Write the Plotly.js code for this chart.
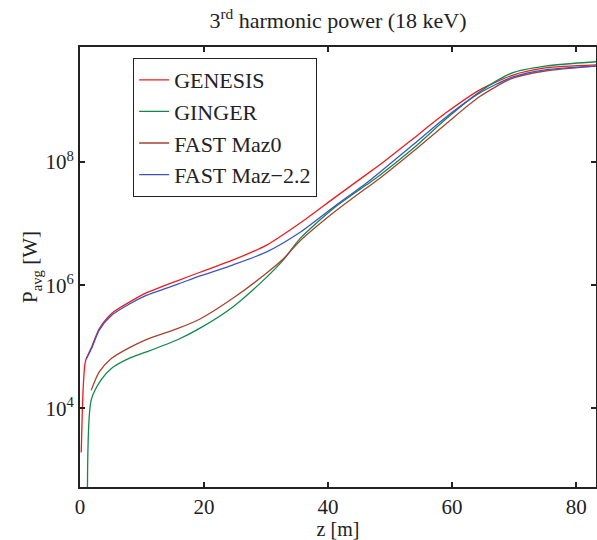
<!DOCTYPE html>
<html>
<head>
<meta charset="utf-8">
<script src="https://cdn.plot.ly/plotly-3.0.1.min.js"></script>
<style>html,body{margin:0;padding:0;background:#fff;}#chart{width:597px;height:540px;}</style>
</head>
<body>
<div id="chart"></div>
<script>
// GENESIS
const zGenesis = [0.2, 0.5, 0.8, 1.0, 1.9, 3.1, 5.1, 7.9, 10.6, 15.9, 19.35, 24.7, 30.1, 35.5, 40.9, 46.2, 48.4, 53.7, 59.0, 64.4, 69.7, 75.0, 83.2];
const pGenesis = [1.91e3, 2.0e4, 5.25e4, 6.31e4, 1.0e5, 1.95e5, 3.47e5, 5.25e5, 7.41e5, 1.20e6, 1.62e6, 2.57e6, 4.47e6, 1.02e7, 2.57e7, 6.31e7, 9.12e7, 2.40e8, 6.31e8, 1.48e9, 2.57e9, 3.39e9, 3.80e9];
// GINGER
const zGinger = [1.2, 1.8, 3.4, 5.1, 7.9, 10.6, 15.9, 19.35, 24.7, 30.1, 32.8, 35.5, 40.9, 46.2, 48.4, 53.7, 59.0, 64.4, 69.7, 75.0, 83.2];
const pGinger = [1.0e2, 1.35e4, 2.88e4, 4.47e4, 6.46e4, 8.13e4, 1.32e5, 2.0e5, 4.47e5, 1.35e6, 2.57e6, 5.75e6, 1.78e7, 4.27e7, 6.17e7, 1.66e8, 5.01e8, 1.38e9, 2.82e9, 3.63e9, 4.27e9];
// FAST Maz0
const zMaz0 = [1.8, 3.1, 5.1, 7.9, 10.6, 15.9, 19.35, 24.7, 30.1, 32.8, 35.5, 40.9, 46.2, 48.4, 53.7, 59.0, 64.4, 69.7, 75.0, 83.2];
const pMaz0 = [1.95e4, 3.89e4, 6.46e4, 9.55e4, 1.29e5, 2.0e5, 2.82e5, 6.17e5, 1.58e6, 2.69e6, 5.25e6, 1.51e7, 3.80e7, 5.50e7, 1.48e8, 4.17e8, 1.15e9, 2.29e9, 3.02e9, 3.63e9];
// FAST Maz-2.2
const zMaz22 = [1.0, 1.9, 3.1, 5.1, 7.9, 10.6, 15.9, 19.35, 24.7, 30.1, 35.5, 40.9, 46.2, 48.4, 53.7, 59.0, 64.4, 69.7, 75.0, 83.2];
const pMaz22 = [6.31e4, 9.55e4, 1.86e5, 3.24e5, 4.90e5, 6.76e5, 1.05e6, 1.41e6, 2.14e6, 3.47e6, 7.24e6, 1.86e7, 4.57e7, 6.92e7, 1.91e8, 5.37e8, 1.32e9, 2.40e9, 3.16e9, 3.63e9];

const names = ['GENESIS', 'GINGER', 'FAST Maz0', 'FAST Maz\u22122.2'];
const colors = ['#ee1c1c', '#10894a', '#a3442e', '#3a55c4'];

const xTickVals = [0, 20, 40, 60, 80];
const yTickVals = [1e4, 1e6, 1e8];
const yTickText = ['10<sup>4</sup>', '10<sup>6</sup>', '10<sup>8</sup>'];

const series = [[zGenesis, pGenesis], [zGinger, pGinger], [zMaz0, pMaz0], [zMaz22, pMaz22]];
const traces = series.map((s, i) => ({
  x: s[0], y: s[1], type: 'scatter', mode: 'lines', name: names[i],
  line: {color: colors[i], width: 1.3, shape: 'spline', smoothing: 0.7}
}));

const fam = 'Liberation Serif, Times New Roman, serif';
const font = {family: fam, size: 21, color: '#222'};
const xTitleFont = {family: fam, size: 20, color: '#222'};
const legendFont = {family: fam, size: 22, color: '#222'};

const layout = {
  width: 597, height: 540,
  margin: {l: 80, r: 1, t: 47, b: 53},
  paper_bgcolor: '#fff', plot_bgcolor: '#fff',
  font: font,
  showlegend: true,
  title: {text: '3<sup>rd</sup> harmonic power (18 keV)', x: 0.5, xref: 'paper', xanchor: 'center', y: 0.962, yref: 'container', yanchor: 'middle', font: {family: fam, size: 22, color: '#222'}},
  xaxis: {
    range: [0, 83.2], tickvals: xTickVals, ticks: 'inside', ticklen: 5, tickwidth: 1.5, tickcolor: '#222',
    showline: true, linecolor: '#222', linewidth: 2, mirror: 'ticks', showgrid: false, zeroline: false,
    title: {text: 'z [m]', standoff: 0, font: xTitleFont}, tickfont: font
  },
  yaxis: {
    type: 'log', range: [2.72, 9.87], tickvals: yTickVals, ticktext: yTickText,
    ticks: 'inside', ticklen: 5, tickwidth: 1.5, tickcolor: '#222',
    showline: true, linecolor: '#222', linewidth: 2, mirror: 'ticks', showgrid: false, zeroline: false,
    title: {text: 'P<sub>avg</sub> [W]', standoff: 2, font: font}, tickfont: font
  },
  legend: {
    x: 0.103, y: 0.975, xanchor: 'left', yanchor: 'top',
    bgcolor: '#fff', bordercolor: '#222', borderwidth: 1, font: legendFont
  }
};

Plotly.newPlot('chart', traces, layout, {staticPlot: true, displayModeBar: false});
</script>
</body>
</html>
